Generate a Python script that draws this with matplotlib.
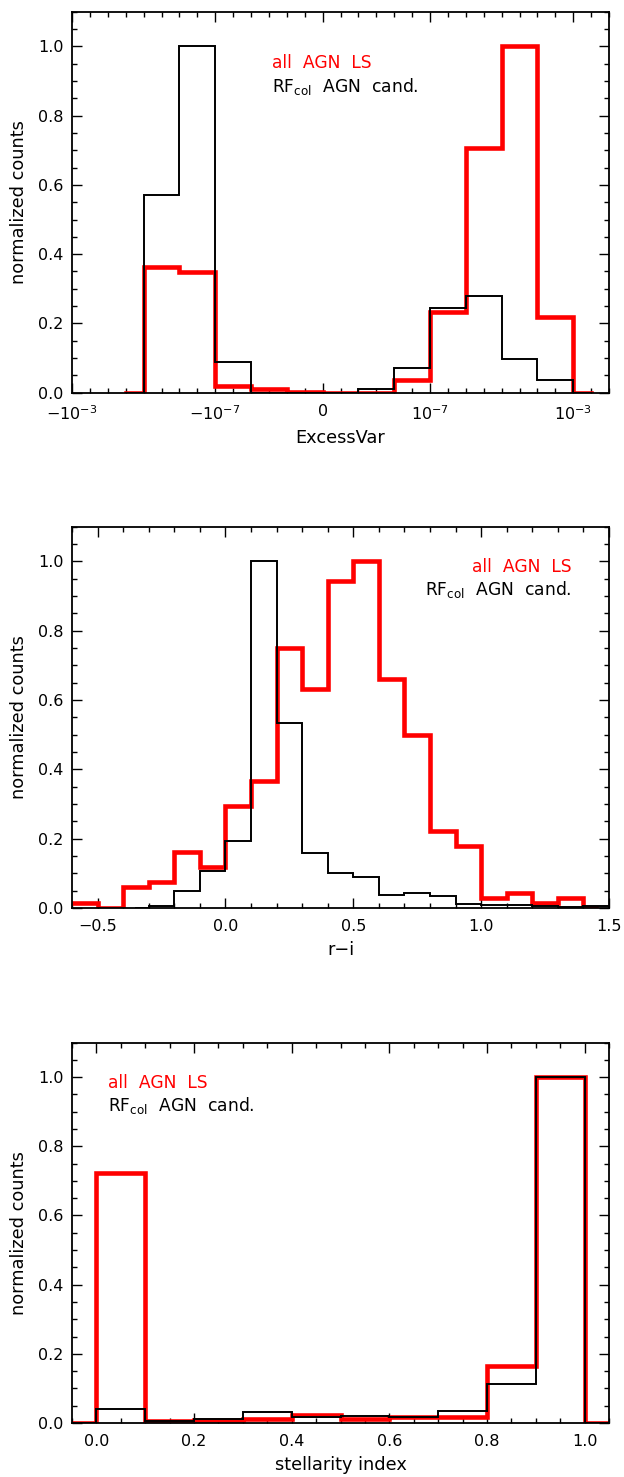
import numpy as np
import matplotlib
matplotlib.use("Agg")
import matplotlib.pyplot as plt
from matplotlib.ticker import FixedLocator, MultipleLocator

plt.rcParams["font.family"] = ["DejaVu Sans"]
plt.rcParams["mathtext.fontset"] = "dejavusans"

# ---- ExcessVar (signed log index: +/-3 -> +/-1e-7, +/-7 -> +/-1e-3) ----
ev_centers = np.arange(-5.5, 8.0, 1.0)
ev_all = [0.0, 0.362, 0.348, 0.020, 0.010, 0.002, 0.0, 0.0,
          0.037, 0.234, 0.707, 1.0, 0.219, 0.0]
ev_rf = [0.0, 0.572, 1.0, 0.0875, 0.0, 0.0, 0.0, 0.010,
         0.072, 0.246, 0.280, 0.096, 0.038, 0.0]
ev_tick_pos = [-7, -3, 0, 3, 7]
ev_tick_lab = [r"$-10^{-3}$", r"$-10^{-7}$", "0", r"$10^{-7}$", r"$10^{-3}$"]

# ---- r-i colour ----
ri_all_centers = np.round(np.arange(-0.55, 1.46, 0.1), 2)
ri_all = [0.014, 0.0, 0.060, 0.074, 0.163, 0.117, 0.295, 0.367, 0.750,
          0.632, 0.942, 1.0, 0.662, 0.500, 0.221, 0.178, 0.029, 0.043,
          0.014, 0.029, 0.0]
ri_rf_centers = np.round(np.arange(-0.35, 1.56, 0.1), 2)
ri_rf = [0.0, 0.005, 0.048, 0.108, 0.192, 1.0, 0.534, 0.160, 0.100,
         0.091, 0.038, 0.043, 0.034, 0.012, 0.010, 0.010, 0.005, 0.003,
         0.005, 0.005]

# ---- stellarity index ----
st_centers = np.round(np.arange(-0.05, 1.06, 0.1), 2)
st_all = [0.0, 0.723, 0.005, 0.008, 0.010, 0.022, 0.012, 0.017, 0.017,
          0.166, 1.0, 0.0]
st_rf = [0.0, 0.040, 0.005, 0.0125, 0.031, 0.016, 0.019, 0.016, 0.034,
         0.113, 1.0, 0.0]

RED = "#ff0000"
BLACK = "#000000"
FS = 11.5
AFS = 12.8
LFS = 12.3
LAB_ALL = "all  AGN  LS"
LAB_RF = r"RF$_{\mathrm{col}}$  AGN  cand."


def hist_line(ax, centers, values, full_first=False, full_last=False, **kw):
    """Histogram outline in the style of a centred-bin step plot."""
    c = np.asarray(centers, float)
    v = np.asarray(values, float)
    w = c[1] - c[0]
    left = c - w / 2
    right = c + w / 2
    if not full_first:
        left[0] = c[0]
    if not full_last:
        right[-1] = c[-1]
    xs = np.column_stack([left, right]).ravel()
    ys = np.repeat(v, 2)
    ax.plot(xs, ys, solid_joinstyle="miter", **kw)


def style_axes(ax):
    for s in ax.spines.values():
        s.set_linewidth(1.3)
    ax.tick_params(which="both", direction="in", top=True, right=True,
                   width=1.0, labelsize=FS)
    ax.tick_params(which="major", length=7)
    ax.tick_params(which="minor", length=3.6)
    ax.tick_params(axis="x", which="major", pad=8)
    ax.tick_params(axis="y", which="major", pad=6)
    ax.set_ylim(0, 1.1)
    ax.yaxis.set_major_locator(MultipleLocator(0.2))
    ax.yaxis.set_minor_locator(MultipleLocator(0.05))
    ax.set_yticklabels([f"{t:.1f}" for t in ax.get_yticks()])
    ax.set_ylabel("normalized counts", fontsize=AFS, labelpad=7)


def labels(ax, x, y_all, y_rf, ha):
    ax.text(x, y_all, LAB_ALL, color=RED, fontsize=LFS, ha=ha, va="center")
    ax.text(x, y_rf, LAB_RF, color=BLACK, fontsize=LFS, ha=ha, va="center")


fig = plt.figure(figsize=(6.24, 14.77), dpi=100)
L, W = 0.1154, 0.8606
ax1 = fig.add_axes([L, 0.7341, W, 0.2580])
ax2 = fig.add_axes([L, 0.3852, W, 0.2582])
ax3 = fig.add_axes([L, 0.0366, W, 0.2575])

# Panel 1: ExcessVar
hist_line(ax1, ev_centers, ev_rf, color=BLACK, lw=1.4, zorder=3)
hist_line(ax1, ev_centers, ev_all, color=RED, lw=3.3, zorder=2)
ax1.set_xlim(-7, 8)
ax1.xaxis.set_major_locator(FixedLocator(ev_tick_pos))
ax1.set_xticklabels(ev_tick_lab)
ax1.xaxis.set_minor_locator(MultipleLocator(0.5))
style_axes(ax1)
ax1.set_xlabel("ExcessVar", fontsize=AFS, labelpad=5)
labels(ax1, -1.4, 0.952, 0.885, "left")

# Panel 2: r-i
hist_line(ax2, ri_rf_centers, ri_rf, color=BLACK, lw=1.4, zorder=3)
hist_line(ax2, ri_all_centers, ri_all, full_first=True, color=RED, lw=3.3,
          zorder=2)
ax2.set_xlim(-0.6, 1.5)
ax2.xaxis.set_minor_locator(MultipleLocator(0.1))
ax2.set_xticks([-0.5, 0.0, 0.5, 1.0, 1.5])
ax2.set_xticklabels(["\u22120.5", "0.0", "0.5", "1.0", "1.5"])
style_axes(ax2)
ax2.set_xlabel("r\u2212i", fontsize=AFS, labelpad=5)
labels(ax2, 1.352, 0.984, 0.920, "right")

# Panel 3: stellarity index
hist_line(ax3, st_centers, st_rf, color=BLACK, lw=1.4, zorder=3)
hist_line(ax3, st_centers, st_all, color=RED, lw=3.3, zorder=2)
ax3.set_xlim(-0.05, 1.05)
ax3.set_xticks([0.0, 0.2, 0.4, 0.6, 0.8, 1.0])
ax3.set_xticklabels(["0.0", "0.2", "0.4", "0.6", "0.8", "1.0"])
ax3.xaxis.set_minor_locator(MultipleLocator(0.05))
style_axes(ax3)
ax3.set_xlabel("stellarity index", fontsize=AFS, labelpad=5)
labels(ax3, 0.024, 0.984, 0.917, "left")

fig.savefig("out.png", dpi=100)
